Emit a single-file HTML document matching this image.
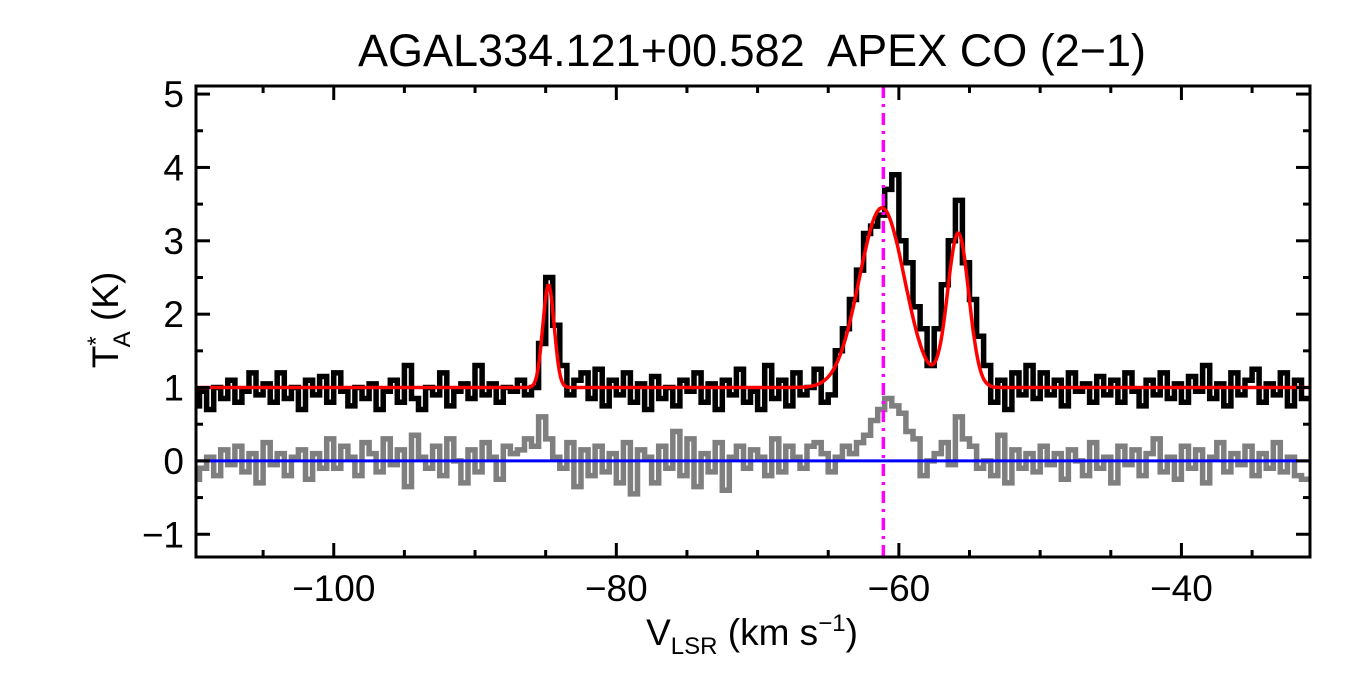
<!DOCTYPE html>
<html><head><meta charset="utf-8"><style>
html,body{margin:0;padding:0;background:#fff;}
svg{display:block;font-family:"Liberation Sans",Arial,sans-serif;}
</style></head><body>
<svg id="chart" width="1350" height="675" viewBox="0 0 1350 675" xmlns="http://www.w3.org/2000/svg">
<rect width="1350" height="675" fill="#fff"/>
<text x="752" y="66" font-size="45" text-anchor="middle" fill="#000" xml:space="preserve">AGAL334.121+00.582  APEX CO (2−1)</text>
<g id="plot"></g>
<text transform="translate(118,320) rotate(-90)" font-size="37" text-anchor="middle" fill="#000">T<tspan font-size="24" dy="-14">*</tspan><tspan font-size="24" dx="-11" dy="26">A</tspan><tspan dy="-12"> (K)</tspan></text>
<text x="752" y="645" font-size="37" text-anchor="middle" fill="#000">V<tspan font-size="24" dy="9">LSR</tspan><tspan dy="-9"> (km s</tspan><tspan font-size="24" dy="-14">−1</tspan><tspan dy="14">)</tspan></text>
</svg>
<script>
const vStart = -109.75, vStep = 0.5;
const spectrum = [
0.75,0.95,0.7,1.0,0.85,1.1,0.8,0.95,1.2,0.9,
1.05,0.8,1.2,0.85,1.0,0.7,1.1,0.9,1.15,0.8,
1.2,0.95,0.75,1.0,0.85,1.05,0.7,0.95,1.1,0.8,
1.3,0.85,0.7,1.0,0.9,1.2,0.75,0.95,1.05,0.85,
1.3,0.9,1.05,0.8,1.0,0.95,1.1,0.9,1.0,1.6,
2.5,1.85,1.3,0.9,1.1,1.2,0.85,1.25,0.75,1.1,
0.9,1.2,0.8,1.05,0.7,1.15,0.85,1.0,0.75,1.1,
0.95,1.2,0.8,1.05,0.7,1.1,0.9,1.25,0.8,0.95,
0.7,1.3,0.85,1.1,0.75,1.2,0.9,1.0,1.25,0.8,
0.9,1.5,1.8,2.2,2.6,3.1,3.2,3.35,3.7,3.9,
3.0,2.7,2.1,1.8,1.3,1.8,2.4,3.0,3.55,2.7,
2.2,1.7,1.3,0.8,1.1,0.7,1.2,0.9,1.3,0.85,
1.2,0.9,1.1,0.75,1.2,0.95,1.05,0.8,1.15,0.9,
1.1,0.8,1.2,0.95,0.75,1.1,0.9,1.2,0.85,1.05,
0.8,1.15,0.95,1.3,0.85,1.05,0.75,1.2,0.9,1.1,
1.25,0.8,1.05,0.9,1.2,0.75,1.1,0.85];
const residual = [
-0.25,-0.1,0.05,-0.2,0.15,-0.05,0.2,-0.15,0.1,-0.3,
0.25,-0.05,0.1,-0.2,0.05,0.15,-0.25,0.1,-0.1,0.3,
-0.1,0.2,0.05,-0.2,0.25,0.1,-0.15,0.3,-0.05,0.15,
-0.35,0.35,0.05,-0.1,0.2,-0.2,0.3,0.0,-0.3,0.15,
-0.15,0.25,0.05,-0.25,0.2,0.1,0.15,0.3,0.2,0.6,
0.3,0.05,-0.1,0.25,-0.35,0.15,-0.2,0.2,-0.15,0.1,
-0.3,0.25,-0.45,0.15,0.05,-0.3,0.2,-0.1,0.4,-0.2,
0.3,-0.35,0.1,-0.15,0.25,-0.4,0.05,0.2,-0.1,0.15,
0.05,-0.2,0.3,-0.15,0.2,0.05,-0.1,0.2,0.25,0.1,
-0.15,0.05,0.2,0.1,0.25,0.35,0.55,0.7,0.85,0.75,
0.65,0.4,0.3,-0.2,0.0,0.1,0.25,-0.05,0.6,0.3,
0.2,-0.1,0.0,-0.2,0.35,-0.3,0.15,-0.1,0.1,-0.15,
0.2,-0.05,0.1,-0.25,0.15,0.0,-0.2,0.25,-0.1,0.05,
-0.3,0.2,-0.05,0.15,-0.2,0.1,0.3,-0.15,0.05,-0.25,
0.2,-0.1,0.15,-0.3,0.05,0.25,-0.15,0.1,-0.05,0.2,
-0.2,0.1,-0.1,0.25,-0.15,0.05,-0.2,-0.25];
const fitBaseline = 1.0;
const fitCenters = [-84.8, -61.2, -55.8];
const fitAmps = [1.4, 2.45, 2.1];
const fitSigmas = [0.4, 1.6, 0.75];
const markerVelocity = -61.1;
const xTicks = [-100, -80, -60, -40];
const yTicks = [-1, 0, 1, 2, 3, 4, 5];

const L=196, R=1310, T=86, B=557;
const xMin=-109.75, xMax=-30.9, yMin=-1.31, yMax=5.11;
const X=v=>L+(v-xMin)/(xMax-xMin)*(R-L);
const Y=t=>B-(t-yMin)/(yMax-yMin)*(B-T);
const NS="http://www.w3.org/2000/svg";
const plot=document.getElementById('plot');
function mk(tag,attrs,parent){const e=document.createElementNS(NS,tag);for(const k in attrs)e.setAttribute(k,attrs[k]);(parent||plot).appendChild(e);return e;}

const clip=mk('clipPath',{id:'pc'});mk('rect',{x:L,y:T,width:R-L,height:B-T},clip);
function stepPath(arr){let d='';arr.forEach((val,i)=>{const x0=X(Math.max(xMin,vStart+vStep*i-vStep/2)),x1=X(vStart+vStep*i+vStep/2),y=Y(val);d+=(i===0?'M':'L')+x0.toFixed(1)+','+y.toFixed(1)+'L'+x1.toFixed(1)+','+y.toFixed(1);});return d;}

const g=mk('g',{'clip-path':'url(#pc)'});
const res=mk('path',{d:stepPath(residual),fill:'none',stroke:'#7f7f7f','stroke-width':5.5},g);


const spec=mk('path',{d:stepPath(spectrum),fill:'none',stroke:'#000','stroke-width':5.5},g);


const zl=mk('line',{x1:L,x2:R,y1:Y(0),y2:Y(0),stroke:'#0000ff','stroke-width':3},g);


let fd='';for(let v=xMin;v<=xMax;v+=0.1){let t=fitBaseline;for(let k=0;k<fitCenters.length;k++)t+=fitAmps[k]*Math.exp(-0.5*Math.pow((v-fitCenters[k])/fitSigmas[k],2));fd+=(fd?'L':'M')+X(v).toFixed(1)+','+Y(t).toFixed(1);}
const fit=mk('path',{d:fd,fill:'none',stroke:'#ff0000','stroke-width':3.5},g);


const mv=mk('line',{x1:X(markerVelocity),x2:X(markerVelocity),y1:T,y2:B,stroke:'#ff00ff','stroke-width':3.5,'stroke-dasharray':'12,6,3,6'},g);



const fr=mk('rect',{x:L,y:T,width:R-L,height:B-T,fill:'none',stroke:'#000','stroke-width':3});


for(let v=-105;v<=xMax;v+=5){const maj=v%20===0;const len=maj?14:7;const x=X(v);
 mk('line',{x1:x,x2:x,y1:B,y2:B-len,stroke:'#000','stroke-width':3});
 mk('line',{x1:x,x2:x,y1:T,y2:T+len,stroke:'#000','stroke-width':3});}
for(let t=-1;t<=5;t+=0.5){const maj=Number.isInteger(t);const len=maj?14:7;const y=Y(t);
 mk('line',{x1:L,x2:L+len,y1:y,y2:y,stroke:'#000','stroke-width':3});
 mk('line',{x1:R,x2:R-len,y1:y,y2:y,stroke:'#000','stroke-width':3});}
xTicks.forEach(v=>{const t=mk('text',{x:X(v),y:B+44,'font-size':37,'text-anchor':'middle',fill:'#000'});t.textContent=(v<0?'−':'')+Math.abs(v);
 
 });
yTicks.forEach(v=>{const t=mk('text',{x:L-12,y:Y(v)+13,'font-size':37,'text-anchor':'end',fill:'#000'});t.textContent=(v<0?'−':'')+Math.abs(v);
 
 });
</script>
</body></html>
